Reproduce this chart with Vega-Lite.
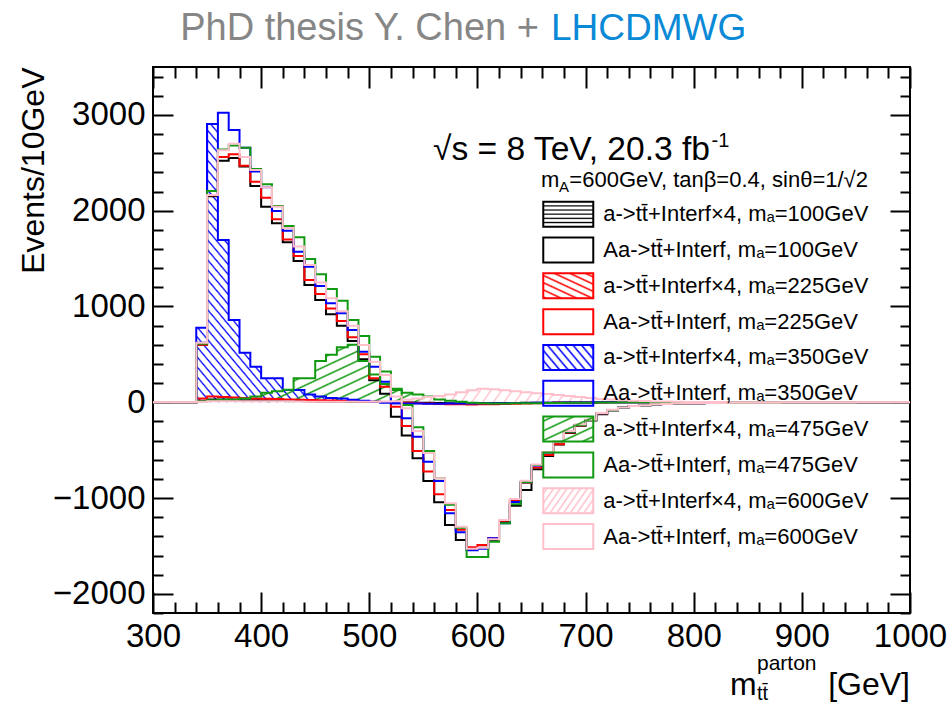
{
"$schema":"https://vega.github.io/schema/vega-lite/v6.json",
"width":757,"height":546,
"autosize":{"type":"none"},
"padding":{"left":153,"top":67,"right":40,"bottom":92},
"background":"white",
"config":{"view":{"stroke":"black","strokeWidth":2},"font":"Liberation Sans","axis":{"labelOverlap":false,"labelSeparation":0}},
"datasets":{
"h":[
{"s":"h1","x":300,"y":0},{"s":"h1","x":310,"y":0},{"s":"h1","x":320,"y":0},{"s":"h1","x":330,"y":0},{"s":"h1","x":340,"y":15},{"s":"h1","x":350,"y":30},{"s":"h1","x":360,"y":28},{"s":"h1","x":370,"y":25},{"s":"h1","x":380,"y":22},{"s":"h1","x":390,"y":20},{"s":"h1","x":400,"y":18},{"s":"h1","x":410,"y":16},{"s":"h1","x":420,"y":14},{"s":"h1","x":430,"y":12},{"s":"h1","x":440,"y":10},{"s":"h1","x":450,"y":9},{"s":"h1","x":460,"y":8},{"s":"h1","x":470,"y":7},{"s":"h1","x":480,"y":6},{"s":"h1","x":490,"y":5},{"s":"h1","x":500,"y":4},{"s":"h1","x":510,"y":3},{"s":"h1","x":520,"y":2},{"s":"h1","x":530,"y":-2},{"s":"h1","x":540,"y":-4},{"s":"h1","x":550,"y":-6},{"s":"h1","x":560,"y":-8},{"s":"h1","x":570,"y":-9},{"s":"h1","x":580,"y":-10},{"s":"h1","x":590,"y":-10},{"s":"h1","x":600,"y":-10},{"s":"h1","x":610,"y":-9},{"s":"h1","x":620,"y":-8},{"s":"h1","x":630,"y":-7},{"s":"h1","x":640,"y":-6},{"s":"h1","x":650,"y":-5},{"s":"h1","x":660,"y":-4},{"s":"h1","x":670,"y":-3},{"s":"h1","x":680,"y":-3},{"s":"h1","x":690,"y":-2},{"s":"h1","x":700,"y":-2},{"s":"h1","x":710,"y":-1},{"s":"h1","x":720,"y":-1},{"s":"h1","x":730,"y":0},{"s":"h1","x":740,"y":0},{"s":"h1","x":750,"y":0},{"s":"h1","x":760,"y":0},{"s":"h1","x":770,"y":0},{"s":"h1","x":780,"y":0},{"s":"h1","x":790,"y":0},{"s":"h1","x":800,"y":0},{"s":"h1","x":810,"y":0},{"s":"h1","x":820,"y":0},{"s":"h1","x":830,"y":0},{"s":"h1","x":840,"y":0},{"s":"h1","x":850,"y":0},{"s":"h1","x":860,"y":0},{"s":"h1","x":870,"y":0},{"s":"h1","x":880,"y":0},{"s":"h1","x":890,"y":0},{"s":"h1","x":900,"y":0},{"s":"h1","x":910,"y":0},{"s":"h1","x":920,"y":0},{"s":"h1","x":930,"y":0},{"s":"h1","x":940,"y":0},{"s":"h1","x":950,"y":0},{"s":"h1","x":960,"y":0},{"s":"h1","x":970,"y":0},{"s":"h1","x":980,"y":0},{"s":"h1","x":990,"y":0},{"s":"h1","x":1000,"y":0},
{"s":"o1","x":300,"y":0},{"s":"o1","x":310,"y":0},{"s":"o1","x":320,"y":0},{"s":"o1","x":330,"y":0},{"s":"o1","x":340,"y":600},{"s":"o1","x":350,"y":2150},{"s":"o1","x":360,"y":2520},{"s":"o1","x":370,"y":2550},{"s":"o1","x":380,"y":2460},{"s":"o1","x":390,"y":2258},{"s":"o1","x":400,"y":2042},{"s":"o1","x":410,"y":1868},{"s":"o1","x":420,"y":1670},{"s":"o1","x":430,"y":1475},{"s":"o1","x":440,"y":1225},{"s":"o1","x":450,"y":1068},{"s":"o1","x":460,"y":920},{"s":"o1","x":470,"y":800},{"s":"o1","x":480,"y":640},{"s":"o1","x":490,"y":450},{"s":"o1","x":500,"y":230},{"s":"o1","x":510,"y":90},{"s":"o1","x":520,"y":-150},{"s":"o1","x":530,"y":-348},{"s":"o1","x":540,"y":-585},{"s":"o1","x":550,"y":-822},{"s":"o1","x":560,"y":-1044},{"s":"o1","x":570,"y":-1281},{"s":"o1","x":580,"y":-1438},{"s":"o1","x":590,"y":-1540},{"s":"o1","x":600,"y":-1520},{"s":"o1","x":610,"y":-1440},{"s":"o1","x":620,"y":-1250},{"s":"o1","x":630,"y":-1080},{"s":"o1","x":640,"y":-916},{"s":"o1","x":650,"y":-700},{"s":"o1","x":660,"y":-560},{"s":"o1","x":670,"y":-440},{"s":"o1","x":680,"y":-320},{"s":"o1","x":690,"y":-245},{"s":"o1","x":700,"y":-190},{"s":"o1","x":710,"y":-125},{"s":"o1","x":720,"y":-85},{"s":"o1","x":730,"y":-55},{"s":"o1","x":740,"y":-40},{"s":"o1","x":750,"y":-30},{"s":"o1","x":760,"y":-22},{"s":"o1","x":770,"y":-18},{"s":"o1","x":780,"y":-14},{"s":"o1","x":790,"y":-11},{"s":"o1","x":800,"y":-9},{"s":"o1","x":810,"y":-8},{"s":"o1","x":820,"y":-7},{"s":"o1","x":830,"y":-6},{"s":"o1","x":840,"y":-5},{"s":"o1","x":850,"y":-5},{"s":"o1","x":860,"y":-4},{"s":"o1","x":870,"y":-4},{"s":"o1","x":880,"y":-3},{"s":"o1","x":890,"y":-3},{"s":"o1","x":900,"y":-3},{"s":"o1","x":910,"y":-2},{"s":"o1","x":920,"y":-2},{"s":"o1","x":930,"y":-2},{"s":"o1","x":940,"y":-2},{"s":"o1","x":950,"y":-1},{"s":"o1","x":960,"y":-1},{"s":"o1","x":970,"y":-1},{"s":"o1","x":980,"y":-1},{"s":"o1","x":990,"y":0},{"s":"o1","x":1000,"y":0},
{"s":"h2","x":300,"y":0},{"s":"h2","x":310,"y":0},{"s":"h2","x":320,"y":0},{"s":"h2","x":330,"y":0},{"s":"h2","x":340,"y":40},{"s":"h2","x":350,"y":60},{"s":"h2","x":360,"y":55},{"s":"h2","x":370,"y":50},{"s":"h2","x":380,"y":45},{"s":"h2","x":390,"y":40},{"s":"h2","x":400,"y":36},{"s":"h2","x":410,"y":33},{"s":"h2","x":420,"y":30},{"s":"h2","x":430,"y":27},{"s":"h2","x":440,"y":24},{"s":"h2","x":450,"y":21},{"s":"h2","x":460,"y":18},{"s":"h2","x":470,"y":15},{"s":"h2","x":480,"y":12},{"s":"h2","x":490,"y":9},{"s":"h2","x":500,"y":6},{"s":"h2","x":510,"y":3},{"s":"h2","x":520,"y":0},{"s":"h2","x":530,"y":-5},{"s":"h2","x":540,"y":-10},{"s":"h2","x":550,"y":-14},{"s":"h2","x":560,"y":-17},{"s":"h2","x":570,"y":-20},{"s":"h2","x":580,"y":-22},{"s":"h2","x":590,"y":-23},{"s":"h2","x":600,"y":-22},{"s":"h2","x":610,"y":-20},{"s":"h2","x":620,"y":-18},{"s":"h2","x":630,"y":-15},{"s":"h2","x":640,"y":-12},{"s":"h2","x":650,"y":-10},{"s":"h2","x":660,"y":-8},{"s":"h2","x":670,"y":-6},{"s":"h2","x":680,"y":-5},{"s":"h2","x":690,"y":-4},{"s":"h2","x":700,"y":-3},{"s":"h2","x":710,"y":-2},{"s":"h2","x":720,"y":-1},{"s":"h2","x":730,"y":0},{"s":"h2","x":740,"y":0},{"s":"h2","x":750,"y":0},{"s":"h2","x":760,"y":0},{"s":"h2","x":770,"y":0},{"s":"h2","x":780,"y":0},{"s":"h2","x":790,"y":0},{"s":"h2","x":800,"y":0},{"s":"h2","x":810,"y":0},{"s":"h2","x":820,"y":0},{"s":"h2","x":830,"y":0},{"s":"h2","x":840,"y":0},{"s":"h2","x":850,"y":0},{"s":"h2","x":860,"y":0},{"s":"h2","x":870,"y":0},{"s":"h2","x":880,"y":0},{"s":"h2","x":890,"y":0},{"s":"h2","x":900,"y":0},{"s":"h2","x":910,"y":0},{"s":"h2","x":920,"y":0},{"s":"h2","x":930,"y":0},{"s":"h2","x":940,"y":0},{"s":"h2","x":950,"y":0},{"s":"h2","x":960,"y":0},{"s":"h2","x":970,"y":0},{"s":"h2","x":980,"y":0},{"s":"h2","x":990,"y":0},{"s":"h2","x":1000,"y":0},
{"s":"o2","x":300,"y":0},{"s":"o2","x":310,"y":0},{"s":"o2","x":320,"y":0},{"s":"o2","x":330,"y":0},{"s":"o2","x":340,"y":600},{"s":"o2","x":350,"y":2160},{"s":"o2","x":360,"y":2560},{"s":"o2","x":370,"y":2590},{"s":"o2","x":380,"y":2470},{"s":"o2","x":390,"y":2303},{"s":"o2","x":400,"y":2136},{"s":"o2","x":410,"y":1910},{"s":"o2","x":420,"y":1700},{"s":"o2","x":430,"y":1527},{"s":"o2","x":440,"y":1277},{"s":"o2","x":450,"y":1130},{"s":"o2","x":460,"y":980},{"s":"o2","x":470,"y":849},{"s":"o2","x":480,"y":680},{"s":"o2","x":490,"y":500},{"s":"o2","x":500,"y":250},{"s":"o2","x":510,"y":163},{"s":"o2","x":520,"y":-46},{"s":"o2","x":530,"y":-247},{"s":"o2","x":540,"y":-508},{"s":"o2","x":550,"y":-724},{"s":"o2","x":560,"y":-960},{"s":"o2","x":570,"y":-1124},{"s":"o2","x":580,"y":-1330},{"s":"o2","x":590,"y":-1514},{"s":"o2","x":600,"y":-1490},{"s":"o2","x":610,"y":-1420},{"s":"o2","x":620,"y":-1236},{"s":"o2","x":630,"y":-1023},{"s":"o2","x":640,"y":-840},{"s":"o2","x":650,"y":-682},{"s":"o2","x":660,"y":-550},{"s":"o2","x":670,"y":-439},{"s":"o2","x":680,"y":-315},{"s":"o2","x":690,"y":-240},{"s":"o2","x":700,"y":-185},{"s":"o2","x":710,"y":-118},{"s":"o2","x":720,"y":-80},{"s":"o2","x":730,"y":-55},{"s":"o2","x":740,"y":-40},{"s":"o2","x":750,"y":-30},{"s":"o2","x":760,"y":-22},{"s":"o2","x":770,"y":-18},{"s":"o2","x":780,"y":-14},{"s":"o2","x":790,"y":-11},{"s":"o2","x":800,"y":-9},{"s":"o2","x":810,"y":-8},{"s":"o2","x":820,"y":-7},{"s":"o2","x":830,"y":-6},{"s":"o2","x":840,"y":-5},{"s":"o2","x":850,"y":-5},{"s":"o2","x":860,"y":-4},{"s":"o2","x":870,"y":-4},{"s":"o2","x":880,"y":-3},{"s":"o2","x":890,"y":-3},{"s":"o2","x":900,"y":-3},{"s":"o2","x":910,"y":-2},{"s":"o2","x":920,"y":-2},{"s":"o2","x":930,"y":-2},{"s":"o2","x":940,"y":-2},{"s":"o2","x":950,"y":-1},{"s":"o2","x":960,"y":-1},{"s":"o2","x":970,"y":-1},{"s":"o2","x":980,"y":-1},{"s":"o2","x":990,"y":0},{"s":"o2","x":1000,"y":0},
{"s":"h3","x":300,"y":0},{"s":"h3","x":310,"y":0},{"s":"h3","x":320,"y":0},{"s":"h3","x":330,"y":0},{"s":"h3","x":340,"y":779},{"s":"h3","x":350,"y":2905},{"s":"h3","x":360,"y":1694},{"s":"h3","x":370,"y":859},{"s":"h3","x":380,"y":518},{"s":"h3","x":390,"y":372},{"s":"h3","x":400,"y":250},{"s":"h3","x":410,"y":250},{"s":"h3","x":420,"y":128},{"s":"h3","x":430,"y":128},{"s":"h3","x":440,"y":80},{"s":"h3","x":450,"y":60},{"s":"h3","x":460,"y":45},{"s":"h3","x":470,"y":40},{"s":"h3","x":480,"y":25},{"s":"h3","x":490,"y":15},{"s":"h3","x":500,"y":5},{"s":"h3","x":510,"y":-5},{"s":"h3","x":520,"y":-10},{"s":"h3","x":530,"y":-12},{"s":"h3","x":540,"y":-14},{"s":"h3","x":550,"y":-15},{"s":"h3","x":560,"y":-15},{"s":"h3","x":570,"y":-14},{"s":"h3","x":580,"y":-13},{"s":"h3","x":590,"y":-12},{"s":"h3","x":600,"y":-11},{"s":"h3","x":610,"y":-10},{"s":"h3","x":620,"y":-9},{"s":"h3","x":630,"y":-8},{"s":"h3","x":640,"y":-7},{"s":"h3","x":650,"y":-6},{"s":"h3","x":660,"y":-5},{"s":"h3","x":670,"y":-4},{"s":"h3","x":680,"y":-3},{"s":"h3","x":690,"y":-2},{"s":"h3","x":700,"y":-2},{"s":"h3","x":710,"y":-1},{"s":"h3","x":720,"y":0},{"s":"h3","x":730,"y":0},{"s":"h3","x":740,"y":0},{"s":"h3","x":750,"y":0},{"s":"h3","x":760,"y":0},{"s":"h3","x":770,"y":0},{"s":"h3","x":780,"y":0},{"s":"h3","x":790,"y":0},{"s":"h3","x":800,"y":0},{"s":"h3","x":810,"y":0},{"s":"h3","x":820,"y":0},{"s":"h3","x":830,"y":0},{"s":"h3","x":840,"y":0},{"s":"h3","x":850,"y":0},{"s":"h3","x":860,"y":0},{"s":"h3","x":870,"y":0},{"s":"h3","x":880,"y":0},{"s":"h3","x":890,"y":0},{"s":"h3","x":900,"y":0},{"s":"h3","x":910,"y":0},{"s":"h3","x":920,"y":0},{"s":"h3","x":930,"y":0},{"s":"h3","x":940,"y":0},{"s":"h3","x":950,"y":0},{"s":"h3","x":960,"y":0},{"s":"h3","x":970,"y":0},{"s":"h3","x":980,"y":0},{"s":"h3","x":990,"y":0},{"s":"h3","x":1000,"y":0},
{"s":"o3","x":300,"y":0},{"s":"o3","x":310,"y":0},{"s":"o3","x":320,"y":0},{"s":"o3","x":330,"y":0},{"s":"o3","x":340,"y":620},{"s":"o3","x":350,"y":2905},{"s":"o3","x":360,"y":3023},{"s":"o3","x":370,"y":2843},{"s":"o3","x":380,"y":2658},{"s":"o3","x":390,"y":2410},{"s":"o3","x":400,"y":2244},{"s":"o3","x":410,"y":1997},{"s":"o3","x":420,"y":1790},{"s":"o3","x":430,"y":1572},{"s":"o3","x":440,"y":1416},{"s":"o3","x":450,"y":1214},{"s":"o3","x":460,"y":1033},{"s":"o3","x":470,"y":929},{"s":"o3","x":480,"y":755},{"s":"o3","x":490,"y":528},{"s":"o3","x":500,"y":372},{"s":"o3","x":510,"y":215},{"s":"o3","x":520,"y":-10},{"s":"o3","x":530,"y":-167},{"s":"o3","x":540,"y":-359},{"s":"o3","x":550,"y":-620},{"s":"o3","x":560,"y":-822},{"s":"o3","x":570,"y":-1159},{"s":"o3","x":580,"y":-1357},{"s":"o3","x":590,"y":-1545},{"s":"o3","x":600,"y":-1530},{"s":"o3","x":610,"y":-1420},{"s":"o3","x":620,"y":-1263},{"s":"o3","x":630,"y":-1040},{"s":"o3","x":640,"y":-835},{"s":"o3","x":650,"y":-660},{"s":"o3","x":660,"y":-525},{"s":"o3","x":670,"y":-415},{"s":"o3","x":680,"y":-307},{"s":"o3","x":690,"y":-237},{"s":"o3","x":700,"y":-185},{"s":"o3","x":710,"y":-115},{"s":"o3","x":720,"y":-80},{"s":"o3","x":730,"y":-55},{"s":"o3","x":740,"y":-40},{"s":"o3","x":750,"y":-30},{"s":"o3","x":760,"y":-22},{"s":"o3","x":770,"y":-18},{"s":"o3","x":780,"y":-14},{"s":"o3","x":790,"y":-11},{"s":"o3","x":800,"y":-9},{"s":"o3","x":810,"y":-8},{"s":"o3","x":820,"y":-7},{"s":"o3","x":830,"y":-6},{"s":"o3","x":840,"y":-5},{"s":"o3","x":850,"y":-5},{"s":"o3","x":860,"y":-4},{"s":"o3","x":870,"y":-4},{"s":"o3","x":880,"y":-3},{"s":"o3","x":890,"y":-3},{"s":"o3","x":900,"y":-3},{"s":"o3","x":910,"y":-2},{"s":"o3","x":920,"y":-2},{"s":"o3","x":930,"y":-2},{"s":"o3","x":940,"y":-2},{"s":"o3","x":950,"y":-1},{"s":"o3","x":960,"y":-1},{"s":"o3","x":970,"y":-1},{"s":"o3","x":980,"y":-1},{"s":"o3","x":990,"y":0},{"s":"o3","x":1000,"y":0},
{"s":"h4","x":300,"y":0},{"s":"h4","x":310,"y":0},{"s":"h4","x":320,"y":0},{"s":"h4","x":330,"y":0},{"s":"h4","x":340,"y":10},{"s":"h4","x":350,"y":20},{"s":"h4","x":360,"y":25},{"s":"h4","x":370,"y":30},{"s":"h4","x":380,"y":40},{"s":"h4","x":390,"y":60},{"s":"h4","x":400,"y":100},{"s":"h4","x":410,"y":115},{"s":"h4","x":420,"y":130},{"s":"h4","x":430,"y":250},{"s":"h4","x":440,"y":250},{"s":"h4","x":450,"y":430},{"s":"h4","x":460,"y":495},{"s":"h4","x":470,"y":574},{"s":"h4","x":480,"y":600},{"s":"h4","x":490,"y":430},{"s":"h4","x":500,"y":290},{"s":"h4","x":510,"y":190},{"s":"h4","x":520,"y":128},{"s":"h4","x":530,"y":100},{"s":"h4","x":540,"y":80},{"s":"h4","x":550,"y":60},{"s":"h4","x":560,"y":30},{"s":"h4","x":570,"y":15},{"s":"h4","x":580,"y":5},{"s":"h4","x":590,"y":-5},{"s":"h4","x":600,"y":-10},{"s":"h4","x":610,"y":-12},{"s":"h4","x":620,"y":-12},{"s":"h4","x":630,"y":-11},{"s":"h4","x":640,"y":-10},{"s":"h4","x":650,"y":-9},{"s":"h4","x":660,"y":-8},{"s":"h4","x":670,"y":-7},{"s":"h4","x":680,"y":-6},{"s":"h4","x":690,"y":-5},{"s":"h4","x":700,"y":-4},{"s":"h4","x":710,"y":-3},{"s":"h4","x":720,"y":-2},{"s":"h4","x":730,"y":-1},{"s":"h4","x":740,"y":0},{"s":"h4","x":750,"y":0},{"s":"h4","x":760,"y":0},{"s":"h4","x":770,"y":0},{"s":"h4","x":780,"y":0},{"s":"h4","x":790,"y":0},{"s":"h4","x":800,"y":0},{"s":"h4","x":810,"y":0},{"s":"h4","x":820,"y":0},{"s":"h4","x":830,"y":0},{"s":"h4","x":840,"y":0},{"s":"h4","x":850,"y":0},{"s":"h4","x":860,"y":0},{"s":"h4","x":870,"y":0},{"s":"h4","x":880,"y":0},{"s":"h4","x":890,"y":0},{"s":"h4","x":900,"y":0},{"s":"h4","x":910,"y":0},{"s":"h4","x":920,"y":0},{"s":"h4","x":930,"y":0},{"s":"h4","x":940,"y":0},{"s":"h4","x":950,"y":0},{"s":"h4","x":960,"y":0},{"s":"h4","x":970,"y":0},{"s":"h4","x":980,"y":0},{"s":"h4","x":990,"y":0},{"s":"h4","x":1000,"y":0},
{"s":"o4","x":300,"y":0},{"s":"o4","x":310,"y":0},{"s":"o4","x":320,"y":0},{"s":"o4","x":330,"y":0},{"s":"o4","x":340,"y":610},{"s":"o4","x":350,"y":2206},{"s":"o4","x":360,"y":2640},{"s":"o4","x":370,"y":2680},{"s":"o4","x":380,"y":2658},{"s":"o4","x":390,"y":2435},{"s":"o4","x":400,"y":2276},{"s":"o4","x":410,"y":2050},{"s":"o4","x":420,"y":1840},{"s":"o4","x":430,"y":1722},{"s":"o4","x":440,"y":1496},{"s":"o4","x":450,"y":1336},{"s":"o4","x":460,"y":1183},{"s":"o4","x":470,"y":1061},{"s":"o4","x":480,"y":860},{"s":"o4","x":490,"y":692},{"s":"o4","x":500,"y":476},{"s":"o4","x":510,"y":320},{"s":"o4","x":520,"y":140},{"s":"o4","x":530,"y":-28},{"s":"o4","x":540,"y":-261},{"s":"o4","x":550,"y":-508},{"s":"o4","x":560,"y":-794},{"s":"o4","x":570,"y":-1070},{"s":"o4","x":580,"y":-1309},{"s":"o4","x":590,"y":-1615},{"s":"o4","x":600,"y":-1615},{"s":"o4","x":610,"y":-1455},{"s":"o4","x":620,"y":-1263},{"s":"o4","x":630,"y":-1065},{"s":"o4","x":640,"y":-835},{"s":"o4","x":650,"y":-655},{"s":"o4","x":660,"y":-522},{"s":"o4","x":670,"y":-411},{"s":"o4","x":680,"y":-307},{"s":"o4","x":690,"y":-237},{"s":"o4","x":700,"y":-185},{"s":"o4","x":710,"y":-115},{"s":"o4","x":720,"y":-80},{"s":"o4","x":730,"y":-55},{"s":"o4","x":740,"y":-40},{"s":"o4","x":750,"y":-30},{"s":"o4","x":760,"y":-22},{"s":"o4","x":770,"y":-18},{"s":"o4","x":780,"y":-14},{"s":"o4","x":790,"y":-11},{"s":"o4","x":800,"y":-9},{"s":"o4","x":810,"y":-8},{"s":"o4","x":820,"y":-7},{"s":"o4","x":830,"y":-6},{"s":"o4","x":840,"y":-5},{"s":"o4","x":850,"y":-5},{"s":"o4","x":860,"y":-4},{"s":"o4","x":870,"y":-4},{"s":"o4","x":880,"y":-3},{"s":"o4","x":890,"y":-3},{"s":"o4","x":900,"y":-3},{"s":"o4","x":910,"y":-2},{"s":"o4","x":920,"y":-2},{"s":"o4","x":930,"y":-2},{"s":"o4","x":940,"y":-2},{"s":"o4","x":950,"y":-1},{"s":"o4","x":960,"y":-1},{"s":"o4","x":970,"y":-1},{"s":"o4","x":980,"y":-1},{"s":"o4","x":990,"y":0},{"s":"o4","x":1000,"y":0},
{"s":"h5","x":300,"y":0},{"s":"h5","x":310,"y":0},{"s":"h5","x":320,"y":0},{"s":"h5","x":330,"y":0},{"s":"h5","x":340,"y":5},{"s":"h5","x":350,"y":10},{"s":"h5","x":360,"y":10},{"s":"h5","x":370,"y":10},{"s":"h5","x":380,"y":10},{"s":"h5","x":390,"y":10},{"s":"h5","x":400,"y":10},{"s":"h5","x":410,"y":10},{"s":"h5","x":420,"y":10},{"s":"h5","x":430,"y":8},{"s":"h5","x":440,"y":6},{"s":"h5","x":450,"y":5},{"s":"h5","x":460,"y":5},{"s":"h5","x":470,"y":5},{"s":"h5","x":480,"y":5},{"s":"h5","x":490,"y":5},{"s":"h5","x":500,"y":5},{"s":"h5","x":510,"y":8},{"s":"h5","x":520,"y":10},{"s":"h5","x":530,"y":25},{"s":"h5","x":540,"y":40},{"s":"h5","x":550,"y":55},{"s":"h5","x":560,"y":65},{"s":"h5","x":570,"y":80},{"s":"h5","x":580,"y":105},{"s":"h5","x":590,"y":125},{"s":"h5","x":600,"y":140},{"s":"h5","x":610,"y":135},{"s":"h5","x":620,"y":125},{"s":"h5","x":630,"y":115},{"s":"h5","x":640,"y":105},{"s":"h5","x":650,"y":95},{"s":"h5","x":660,"y":85},{"s":"h5","x":670,"y":75},{"s":"h5","x":680,"y":65},{"s":"h5","x":690,"y":55},{"s":"h5","x":700,"y":45},{"s":"h5","x":710,"y":35},{"s":"h5","x":720,"y":28},{"s":"h5","x":730,"y":22},{"s":"h5","x":740,"y":17},{"s":"h5","x":750,"y":12},{"s":"h5","x":760,"y":9},{"s":"h5","x":770,"y":7},{"s":"h5","x":780,"y":5},{"s":"h5","x":790,"y":4},{"s":"h5","x":800,"y":3},{"s":"h5","x":810,"y":2},{"s":"h5","x":820,"y":2},{"s":"h5","x":830,"y":1},{"s":"h5","x":840,"y":1},{"s":"h5","x":850,"y":0},{"s":"h5","x":860,"y":0},{"s":"h5","x":870,"y":0},{"s":"h5","x":880,"y":0},{"s":"h5","x":890,"y":0},{"s":"h5","x":900,"y":0},{"s":"h5","x":910,"y":0},{"s":"h5","x":920,"y":0},{"s":"h5","x":930,"y":0},{"s":"h5","x":940,"y":0},{"s":"h5","x":950,"y":0},{"s":"h5","x":960,"y":0},{"s":"h5","x":970,"y":0},{"s":"h5","x":980,"y":0},{"s":"h5","x":990,"y":0},{"s":"h5","x":1000,"y":0},
{"s":"o5","x":300,"y":0},{"s":"o5","x":310,"y":0},{"s":"o5","x":320,"y":0},{"s":"o5","x":330,"y":0},{"s":"o5","x":340,"y":622},{"s":"o5","x":350,"y":2164},{"s":"o5","x":360,"y":2630},{"s":"o5","x":370,"y":2700},{"s":"o5","x":380,"y":2560},{"s":"o5","x":390,"y":2425},{"s":"o5","x":400,"y":2244},{"s":"o5","x":410,"y":2042},{"s":"o5","x":420,"y":1820},{"s":"o5","x":430,"y":1625},{"s":"o5","x":440,"y":1433},{"s":"o5","x":450,"y":1250},{"s":"o5","x":460,"y":1086},{"s":"o5","x":470,"y":950},{"s":"o5","x":480,"y":800},{"s":"o5","x":490,"y":598},{"s":"o5","x":500,"y":424},{"s":"o5","x":510,"y":285},{"s":"o5","x":520,"y":60},{"s":"o5","x":530,"y":-63},{"s":"o5","x":540,"y":-300},{"s":"o5","x":550,"y":-530},{"s":"o5","x":560,"y":-794},{"s":"o5","x":570,"y":-1054},{"s":"o5","x":580,"y":-1300},{"s":"o5","x":590,"y":-1530},{"s":"o5","x":600,"y":-1520},{"s":"o5","x":610,"y":-1430},{"s":"o5","x":620,"y":-1230},{"s":"o5","x":630,"y":-1010},{"s":"o5","x":640,"y":-820},{"s":"o5","x":650,"y":-650},{"s":"o5","x":660,"y":-520},{"s":"o5","x":670,"y":-411},{"s":"o5","x":680,"y":-300},{"s":"o5","x":690,"y":-230},{"s":"o5","x":700,"y":-180},{"s":"o5","x":710,"y":-112},{"s":"o5","x":720,"y":-78},{"s":"o5","x":730,"y":-55},{"s":"o5","x":740,"y":-40},{"s":"o5","x":750,"y":-30},{"s":"o5","x":760,"y":-22},{"s":"o5","x":770,"y":-18},{"s":"o5","x":780,"y":-14},{"s":"o5","x":790,"y":-11},{"s":"o5","x":800,"y":-9},{"s":"o5","x":810,"y":-8},{"s":"o5","x":820,"y":-7},{"s":"o5","x":830,"y":-6},{"s":"o5","x":840,"y":-5},{"s":"o5","x":850,"y":-5},{"s":"o5","x":860,"y":-4},{"s":"o5","x":870,"y":-4},{"s":"o5","x":880,"y":-3},{"s":"o5","x":890,"y":-3},{"s":"o5","x":900,"y":-3},{"s":"o5","x":910,"y":-2},{"s":"o5","x":920,"y":-2},{"s":"o5","x":930,"y":-2},{"s":"o5","x":940,"y":-2},{"s":"o5","x":950,"y":-1},{"s":"o5","x":960,"y":-1},{"s":"o5","x":970,"y":-1},{"s":"o5","x":980,"y":-1},{"s":"o5","x":990,"y":0},{"s":"o5","x":1000,"y":0}
],
"leg":[
{"s":"h1","t":"a->tt\u0304+Interf\u00d74, m\u2090=100GeV"},
{"s":"o1","t":"Aa->tt\u0304+Interf, m\u2090=100GeV"},
{"s":"h2","t":"a->tt\u0304+Interf\u00d74, m\u2090=225GeV"},
{"s":"o2","t":"Aa->tt\u0304+Interf, m\u2090=225GeV"},
{"s":"h3","t":"a->tt\u0304+Interf\u00d74, m\u2090=350GeV"},
{"s":"o3","t":"Aa->tt\u0304+Interf, m\u2090=350GeV"},
{"s":"h4","t":"a->tt\u0304+Interf\u00d74, m\u2090=475GeV"},
{"s":"o4","t":"Aa->tt\u0304+Interf, m\u2090=475GeV"},
{"s":"h5","t":"a->tt\u0304+Interf\u00d74, m\u2090=600GeV"},
{"s":"o5","t":"Aa->tt\u0304+Interf, m\u2090=600GeV"}
]
},
"resolve":{"scale":{"y":"independent"},"axis":{"x":"independent","y":"independent"}},
"layer":[
{
"data":{"name":"h"},
"layer":[
{"mark":{"type":"line","interpolate":"step-after","strokeWidth":2,"opacity":0},
"encoding":{
"x":{"field":"x","type":"quantitative","scale":{"domain":[300,1000],"nice":false},
"axis":{"orient":"bottom","tickCount":100,"values":[300,320,340,360,380,400,420,440,460,480,500,520,540,560,580,600,620,640,660,680,700,720,740,760,780,800,820,840,860,880,900,920,940,960,980,1000],"format":"d","labelExpr":"datum.value % 100 === 0 ? datum.label : ''","tickSize":{"condition":{"test":"datum.value % 100 === 0","value":-21},"value":-11},"tickWidth":2,"tickColor":"black","domain":false,"grid":false,"labelFontSize":33,"labelFont":"Liberation Sans","labelColor":"black","labelPadding":28,"labelFlush":false,"labelOverlap":false,"labelBound":false,"title":null}},
"y":{"field":"y","type":"quantitative","scale":{"domain":[-2200,3500],"nice":false},
"axis":{"orient":"left","tickCount":100,"values":[-2200,-2000,-1800,-1600,-1400,-1200,-1000,-800,-600,-400,-200,0,200,400,600,800,1000,1200,1400,1600,1800,2000,2200,2400,2600,2800,3000,3200,3400],"format":"d","labelExpr":"datum.value % 1000 === 0 ? datum.label : ''","tickSize":{"condition":{"test":"datum.value % 1000 === 0","value":-20},"value":-10},"tickWidth":2,"tickColor":"black","domain":false,"grid":false,"labelFontSize":33,"labelFont":"Liberation Sans","labelColor":"black","labelPadding":28,"labelOverlap":false,"labelBound":false,"title":"Events/10GeV","titleFontSize":32,"titleFont":"Liberation Sans","titleFontWeight":"normal","titleColor":"black","titleAnchor":"end","titlePadding":2}},
"detail":{"field":"s","type":"nominal"}}},
{"transform":[{"filter":"datum.s==='h3' && datum.x>=340 && datum.x<=510"}],
"mark":{"type":"area","interpolate":"step-after","opacity":1,"strokeWidth":0,
"fill":{"gradient":"linear","x1":0.3825,"y1":-0.486,"x2":-0.486,"y2":0.6175,"stops":[
{"offset":0.002,"color":"rgba(0,0,255,0)"},{"offset":0.006,"color":"#0000ff"},{"offset":0.01,"color":"rgba(0,0,255,0)"},
{"offset":0.022,"color":"rgba(0,0,255,0)"},{"offset":0.026,"color":"#0000ff"},{"offset":0.03,"color":"rgba(0,0,255,0)"},
{"offset":0.042,"color":"rgba(0,0,255,0)"},{"offset":0.046,"color":"#0000ff"},{"offset":0.05,"color":"rgba(0,0,255,0)"},
{"offset":0.062,"color":"rgba(0,0,255,0)"},{"offset":0.066,"color":"#0000ff"},{"offset":0.07,"color":"rgba(0,0,255,0)"},
{"offset":0.082,"color":"rgba(0,0,255,0)"},{"offset":0.086,"color":"#0000ff"},{"offset":0.09,"color":"rgba(0,0,255,0)"},
{"offset":0.102,"color":"rgba(0,0,255,0)"},{"offset":0.106,"color":"#0000ff"},{"offset":0.11,"color":"rgba(0,0,255,0)"},
{"offset":0.122,"color":"rgba(0,0,255,0)"},{"offset":0.126,"color":"#0000ff"},{"offset":0.13,"color":"rgba(0,0,255,0)"},
{"offset":0.142,"color":"rgba(0,0,255,0)"},{"offset":0.146,"color":"#0000ff"},{"offset":0.15,"color":"rgba(0,0,255,0)"},
{"offset":0.162,"color":"rgba(0,0,255,0)"},{"offset":0.166,"color":"#0000ff"},{"offset":0.17,"color":"rgba(0,0,255,0)"},
{"offset":0.182,"color":"rgba(0,0,255,0)"},{"offset":0.186,"color":"#0000ff"},{"offset":0.19,"color":"rgba(0,0,255,0)"},
{"offset":0.202,"color":"rgba(0,0,255,0)"},{"offset":0.206,"color":"#0000ff"},{"offset":0.21,"color":"rgba(0,0,255,0)"},
{"offset":0.222,"color":"rgba(0,0,255,0)"},{"offset":0.226,"color":"#0000ff"},{"offset":0.23,"color":"rgba(0,0,255,0)"},
{"offset":0.242,"color":"rgba(0,0,255,0)"},{"offset":0.246,"color":"#0000ff"},{"offset":0.25,"color":"rgba(0,0,255,0)"},
{"offset":0.262,"color":"rgba(0,0,255,0)"},{"offset":0.266,"color":"#0000ff"},{"offset":0.27,"color":"rgba(0,0,255,0)"},
{"offset":0.282,"color":"rgba(0,0,255,0)"},{"offset":0.286,"color":"#0000ff"},{"offset":0.29,"color":"rgba(0,0,255,0)"},
{"offset":0.302,"color":"rgba(0,0,255,0)"},{"offset":0.306,"color":"#0000ff"},{"offset":0.31,"color":"rgba(0,0,255,0)"},
{"offset":0.322,"color":"rgba(0,0,255,0)"},{"offset":0.326,"color":"#0000ff"},{"offset":0.33,"color":"rgba(0,0,255,0)"},
{"offset":0.342,"color":"rgba(0,0,255,0)"},{"offset":0.346,"color":"#0000ff"},{"offset":0.35,"color":"rgba(0,0,255,0)"},
{"offset":0.362,"color":"rgba(0,0,255,0)"},{"offset":0.366,"color":"#0000ff"},{"offset":0.37,"color":"rgba(0,0,255,0)"},
{"offset":0.382,"color":"rgba(0,0,255,0)"},{"offset":0.386,"color":"#0000ff"},{"offset":0.39,"color":"rgba(0,0,255,0)"},
{"offset":0.402,"color":"rgba(0,0,255,0)"},{"offset":0.406,"color":"#0000ff"},{"offset":0.41,"color":"rgba(0,0,255,0)"},
{"offset":0.422,"color":"rgba(0,0,255,0)"},{"offset":0.426,"color":"#0000ff"},{"offset":0.43,"color":"rgba(0,0,255,0)"},
{"offset":0.442,"color":"rgba(0,0,255,0)"},{"offset":0.446,"color":"#0000ff"},{"offset":0.45,"color":"rgba(0,0,255,0)"},
{"offset":0.462,"color":"rgba(0,0,255,0)"},{"offset":0.466,"color":"#0000ff"},{"offset":0.47,"color":"rgba(0,0,255,0)"},
{"offset":0.482,"color":"rgba(0,0,255,0)"},{"offset":0.486,"color":"#0000ff"},{"offset":0.49,"color":"rgba(0,0,255,0)"},
{"offset":0.502,"color":"rgba(0,0,255,0)"},{"offset":0.506,"color":"#0000ff"},{"offset":0.51,"color":"rgba(0,0,255,0)"},
{"offset":0.522,"color":"rgba(0,0,255,0)"},{"offset":0.526,"color":"#0000ff"},{"offset":0.53,"color":"rgba(0,0,255,0)"},
{"offset":0.542,"color":"rgba(0,0,255,0)"},{"offset":0.546,"color":"#0000ff"},{"offset":0.55,"color":"rgba(0,0,255,0)"},
{"offset":0.562,"color":"rgba(0,0,255,0)"},{"offset":0.566,"color":"#0000ff"},{"offset":0.57,"color":"rgba(0,0,255,0)"},
{"offset":0.582,"color":"rgba(0,0,255,0)"},{"offset":0.586,"color":"#0000ff"},{"offset":0.59,"color":"rgba(0,0,255,0)"},
{"offset":0.602,"color":"rgba(0,0,255,0)"},{"offset":0.606,"color":"#0000ff"},{"offset":0.61,"color":"rgba(0,0,255,0)"},
{"offset":0.622,"color":"rgba(0,0,255,0)"},{"offset":0.626,"color":"#0000ff"},{"offset":0.63,"color":"rgba(0,0,255,0)"},
{"offset":0.642,"color":"rgba(0,0,255,0)"},{"offset":0.646,"color":"#0000ff"},{"offset":0.65,"color":"rgba(0,0,255,0)"},
{"offset":0.662,"color":"rgba(0,0,255,0)"},{"offset":0.666,"color":"#0000ff"},{"offset":0.67,"color":"rgba(0,0,255,0)"},
{"offset":0.682,"color":"rgba(0,0,255,0)"},{"offset":0.686,"color":"#0000ff"},{"offset":0.69,"color":"rgba(0,0,255,0)"},
{"offset":0.702,"color":"rgba(0,0,255,0)"},{"offset":0.706,"color":"#0000ff"},{"offset":0.71,"color":"rgba(0,0,255,0)"},
{"offset":0.722,"color":"rgba(0,0,255,0)"},{"offset":0.726,"color":"#0000ff"},{"offset":0.73,"color":"rgba(0,0,255,0)"},
{"offset":0.742,"color":"rgba(0,0,255,0)"},{"offset":0.746,"color":"#0000ff"},{"offset":0.75,"color":"rgba(0,0,255,0)"},
{"offset":0.762,"color":"rgba(0,0,255,0)"},{"offset":0.766,"color":"#0000ff"},{"offset":0.77,"color":"rgba(0,0,255,0)"},
{"offset":0.782,"color":"rgba(0,0,255,0)"},{"offset":0.786,"color":"#0000ff"},{"offset":0.79,"color":"rgba(0,0,255,0)"},
{"offset":0.802,"color":"rgba(0,0,255,0)"},{"offset":0.806,"color":"#0000ff"},{"offset":0.81,"color":"rgba(0,0,255,0)"},
{"offset":0.822,"color":"rgba(0,0,255,0)"},{"offset":0.826,"color":"#0000ff"},{"offset":0.83,"color":"rgba(0,0,255,0)"},
{"offset":0.842,"color":"rgba(0,0,255,0)"},{"offset":0.846,"color":"#0000ff"},{"offset":0.85,"color":"rgba(0,0,255,0)"},
{"offset":0.862,"color":"rgba(0,0,255,0)"},{"offset":0.866,"color":"#0000ff"},{"offset":0.87,"color":"rgba(0,0,255,0)"},
{"offset":0.882,"color":"rgba(0,0,255,0)"},{"offset":0.886,"color":"#0000ff"},{"offset":0.89,"color":"rgba(0,0,255,0)"},
{"offset":0.902,"color":"rgba(0,0,255,0)"},{"offset":0.906,"color":"#0000ff"},{"offset":0.91,"color":"rgba(0,0,255,0)"},
{"offset":0.922,"color":"rgba(0,0,255,0)"},{"offset":0.926,"color":"#0000ff"},{"offset":0.93,"color":"rgba(0,0,255,0)"},
{"offset":0.942,"color":"rgba(0,0,255,0)"},{"offset":0.946,"color":"#0000ff"},{"offset":0.95,"color":"rgba(0,0,255,0)"},
{"offset":0.962,"color":"rgba(0,0,255,0)"},{"offset":0.966,"color":"#0000ff"},{"offset":0.97,"color":"rgba(0,0,255,0)"},
{"offset":0.982,"color":"rgba(0,0,255,0)"},{"offset":0.986,"color":"#0000ff"},{"offset":0.99,"color":"rgba(0,0,255,0)"}
]}},
"encoding":{"x":{"field":"x","type":"quantitative"},"y":{"field":"y","type":"quantitative"},"y2":{"datum":0}}},
{"transform":[{"filter":"datum.s==='h4' && datum.x>=400 && datum.x<=560"}],
"mark":{"type":"area","interpolate":"step-after","opacity":1,"strokeWidth":0,
"fill":{"gradient":"linear","x1":0,"y1":0,"x2":1.1361,"y2":0.8086,"stops":[
{"offset":0.01,"color":"rgba(17,153,17,0)"},{"offset":0.022,"color":"#119911"},{"offset":0.034,"color":"rgba(17,153,17,0)"},
{"offset":0.08,"color":"rgba(17,153,17,0)"},{"offset":0.092,"color":"#119911"},{"offset":0.104,"color":"rgba(17,153,17,0)"},
{"offset":0.15,"color":"rgba(17,153,17,0)"},{"offset":0.162,"color":"#119911"},{"offset":0.174,"color":"rgba(17,153,17,0)"},
{"offset":0.22,"color":"rgba(17,153,17,0)"},{"offset":0.232,"color":"#119911"},{"offset":0.244,"color":"rgba(17,153,17,0)"},
{"offset":0.29,"color":"rgba(17,153,17,0)"},{"offset":0.302,"color":"#119911"},{"offset":0.314,"color":"rgba(17,153,17,0)"},
{"offset":0.36,"color":"rgba(17,153,17,0)"},{"offset":0.372,"color":"#119911"},{"offset":0.384,"color":"rgba(17,153,17,0)"},
{"offset":0.43,"color":"rgba(17,153,17,0)"},{"offset":0.442,"color":"#119911"},{"offset":0.454,"color":"rgba(17,153,17,0)"},
{"offset":0.5,"color":"rgba(17,153,17,0)"},{"offset":0.512,"color":"#119911"},{"offset":0.524,"color":"rgba(17,153,17,0)"},
{"offset":0.57,"color":"rgba(17,153,17,0)"},{"offset":0.582,"color":"#119911"},{"offset":0.594,"color":"rgba(17,153,17,0)"},
{"offset":0.64,"color":"rgba(17,153,17,0)"},{"offset":0.652,"color":"#119911"},{"offset":0.664,"color":"rgba(17,153,17,0)"},
{"offset":0.71,"color":"rgba(17,153,17,0)"},{"offset":0.722,"color":"#119911"},{"offset":0.734,"color":"rgba(17,153,17,0)"},
{"offset":0.78,"color":"rgba(17,153,17,0)"},{"offset":0.792,"color":"#119911"},{"offset":0.804,"color":"rgba(17,153,17,0)"},
{"offset":0.85,"color":"rgba(17,153,17,0)"},{"offset":0.862,"color":"#119911"},{"offset":0.874,"color":"rgba(17,153,17,0)"},
{"offset":0.92,"color":"rgba(17,153,17,0)"},{"offset":0.932,"color":"#119911"},{"offset":0.944,"color":"rgba(17,153,17,0)"}
]}},
"encoding":{"x":{"field":"x","type":"quantitative"},"y":{"field":"y","type":"quantitative"},"y2":{"datum":0}}},
{"transform":[{"filter":"datum.s==='h5' && datum.x>=520 && datum.x<=760"}],
"mark":{"type":"area","interpolate":"step-after","opacity":1,"strokeWidth":0,
"fill":{"gradient":"linear","x1":0,"y1":0,"x2":1.035,"y2":0.0375,"stops":[
{"offset":0.01,"color":"rgba(255,192,203,0)"},{"offset":0.016,"color":"#ffc0cb"},{"offset":0.022,"color":"rgba(255,192,203,0)"},
{"offset":0.05,"color":"rgba(255,192,203,0)"},{"offset":0.056,"color":"#ffc0cb"},{"offset":0.062,"color":"rgba(255,192,203,0)"},
{"offset":0.09,"color":"rgba(255,192,203,0)"},{"offset":0.096,"color":"#ffc0cb"},{"offset":0.102,"color":"rgba(255,192,203,0)"},
{"offset":0.13,"color":"rgba(255,192,203,0)"},{"offset":0.136,"color":"#ffc0cb"},{"offset":0.142,"color":"rgba(255,192,203,0)"},
{"offset":0.17,"color":"rgba(255,192,203,0)"},{"offset":0.176,"color":"#ffc0cb"},{"offset":0.182,"color":"rgba(255,192,203,0)"},
{"offset":0.21,"color":"rgba(255,192,203,0)"},{"offset":0.216,"color":"#ffc0cb"},{"offset":0.222,"color":"rgba(255,192,203,0)"},
{"offset":0.25,"color":"rgba(255,192,203,0)"},{"offset":0.256,"color":"#ffc0cb"},{"offset":0.262,"color":"rgba(255,192,203,0)"},
{"offset":0.29,"color":"rgba(255,192,203,0)"},{"offset":0.296,"color":"#ffc0cb"},{"offset":0.302,"color":"rgba(255,192,203,0)"},
{"offset":0.33,"color":"rgba(255,192,203,0)"},{"offset":0.336,"color":"#ffc0cb"},{"offset":0.342,"color":"rgba(255,192,203,0)"},
{"offset":0.37,"color":"rgba(255,192,203,0)"},{"offset":0.376,"color":"#ffc0cb"},{"offset":0.382,"color":"rgba(255,192,203,0)"},
{"offset":0.41,"color":"rgba(255,192,203,0)"},{"offset":0.416,"color":"#ffc0cb"},{"offset":0.422,"color":"rgba(255,192,203,0)"},
{"offset":0.45,"color":"rgba(255,192,203,0)"},{"offset":0.456,"color":"#ffc0cb"},{"offset":0.462,"color":"rgba(255,192,203,0)"},
{"offset":0.49,"color":"rgba(255,192,203,0)"},{"offset":0.496,"color":"#ffc0cb"},{"offset":0.502,"color":"rgba(255,192,203,0)"},
{"offset":0.53,"color":"rgba(255,192,203,0)"},{"offset":0.536,"color":"#ffc0cb"},{"offset":0.542,"color":"rgba(255,192,203,0)"},
{"offset":0.57,"color":"rgba(255,192,203,0)"},{"offset":0.576,"color":"#ffc0cb"},{"offset":0.582,"color":"rgba(255,192,203,0)"},
{"offset":0.61,"color":"rgba(255,192,203,0)"},{"offset":0.616,"color":"#ffc0cb"},{"offset":0.622,"color":"rgba(255,192,203,0)"},
{"offset":0.65,"color":"rgba(255,192,203,0)"},{"offset":0.656,"color":"#ffc0cb"},{"offset":0.662,"color":"rgba(255,192,203,0)"},
{"offset":0.69,"color":"rgba(255,192,203,0)"},{"offset":0.696,"color":"#ffc0cb"},{"offset":0.702,"color":"rgba(255,192,203,0)"},
{"offset":0.73,"color":"rgba(255,192,203,0)"},{"offset":0.736,"color":"#ffc0cb"},{"offset":0.742,"color":"rgba(255,192,203,0)"},
{"offset":0.77,"color":"rgba(255,192,203,0)"},{"offset":0.776,"color":"#ffc0cb"},{"offset":0.782,"color":"rgba(255,192,203,0)"},
{"offset":0.81,"color":"rgba(255,192,203,0)"},{"offset":0.816,"color":"#ffc0cb"},{"offset":0.822,"color":"rgba(255,192,203,0)"},
{"offset":0.85,"color":"rgba(255,192,203,0)"},{"offset":0.856,"color":"#ffc0cb"},{"offset":0.862,"color":"rgba(255,192,203,0)"},
{"offset":0.89,"color":"rgba(255,192,203,0)"},{"offset":0.896,"color":"#ffc0cb"},{"offset":0.902,"color":"rgba(255,192,203,0)"},
{"offset":0.93,"color":"rgba(255,192,203,0)"},{"offset":0.936,"color":"#ffc0cb"},{"offset":0.942,"color":"rgba(255,192,203,0)"},
{"offset":0.97,"color":"rgba(255,192,203,0)"},{"offset":0.976,"color":"#ffc0cb"},{"offset":0.982,"color":"rgba(255,192,203,0)"}
]}},
"encoding":{"x":{"field":"x","type":"quantitative"},"y":{"field":"y","type":"quantitative"},"y2":{"datum":0}}},
{"mark":{"type":"line","interpolate":"step-after","strokeWidth":2},
"encoding":{
"x":{"field":"x","type":"quantitative"},
"y":{"field":"y","type":"quantitative"},
"stroke":{"field":"s","type":"nominal","scale":{"domain":["h1","o1","h2","o2","h3","o3","h4","o4","h5","o5"],"range":["#000000","#000000","#ff0000","#ff0000","#0000ff","#0000ff","#119911","#119911","#ffc0cb","#ffc0cb"]},"legend":null}}},
{"data":{"values":[{}]},"mark":{"type":"text","text":"PhD thesis Y. Chen +","align":"right","baseline":"alphabetic","fontSize":38,"font":"Liberation Sans","color":"#868686"},"encoding":{"x":{"datum":656.9},"y":{"datum":3782}}},
{"data":{"values":[{}]},"mark":{"type":"text","text":"LHCDMWG","align":"left","baseline":"alphabetic","fontSize":37,"font":"Liberation Sans","color":"#0a89d6"},"encoding":{"x":{"datum":668.0},"y":{"datum":3782}}},
{"data":{"values":[{}]},"mark":{"type":"text","text":"\u221as = 8 TeV, 20.3 fb","align":"left","baseline":"alphabetic","fontSize":33.6,"font":"Liberation Sans","color":"black"},"encoding":{"x":{"datum":558.9},"y":{"datum":2529}}},
{"data":{"values":[{}]},"mark":{"type":"text","text":"-1","align":"left","baseline":"alphabetic","fontSize":20,"font":"Liberation Sans","color":"black"},"encoding":{"x":{"datum":816.5},"y":{"datum":2665}}},
{"data":{"values":[{}]},"mark":{"type":"text","text":"m","align":"left","baseline":"alphabetic","fontSize":22,"font":"Liberation Sans","color":"black"},"encoding":{"x":{"datum":658.8},"y":{"datum":2248}}},
{"data":{"values":[{}]},"mark":{"type":"text","text":"A","align":"left","baseline":"alphabetic","fontSize":15,"font":"Liberation Sans","color":"black"},"encoding":{"x":{"datum":675.4},"y":{"datum":2196}}},
{"data":{"values":[{}]},"mark":{"type":"text","text":"=600GeV, tan\u03b2=0.4, sin\u03b8=1/\u221a2","align":"left","baseline":"alphabetic","fontSize":22,"font":"Liberation Sans","color":"black"},"encoding":{"x":{"datum":685.0},"y":{"datum":2248}}},
{"data":{"values":[{}]},"mark":{"type":"text","text":"m","align":"left","baseline":"alphabetic","fontSize":32,"font":"Liberation Sans","color":"black"},"encoding":{"x":{"datum":833.6},"y":{"datum":-3056}}},
{"data":{"values":[{}]},"mark":{"type":"text","text":"parton","align":"left","baseline":"alphabetic","fontSize":21,"font":"Liberation Sans","color":"black"},"encoding":{"x":{"datum":858.5},"y":{"datum":-2790}}},
{"data":{"values":[{}]},"mark":{"type":"text","text":"tt\u0304","align":"left","baseline":"alphabetic","fontSize":20,"font":"Liberation Sans","color":"black"},"encoding":{"x":{"datum":858.5},"y":{"datum":-3106}}},
{"data":{"values":[{}]},"mark":{"type":"text","text":"[GeV]","align":"right","baseline":"alphabetic","fontSize":32,"font":"Liberation Sans","color":"black"},"encoding":{"x":{"datum":1000},"y":{"datum":-3056}}}
]
},
{
"data":{"values":[{"x":300,"y":0}]},
"mark":{"type":"point","opacity":0},
"encoding":{
"x":{"field":"x","type":"quantitative","scale":{"domain":[300,1000],"nice":false},
"axis":{"orient":"top","tickCount":100,"values":[300,320,340,360,380,400,420,440,460,480,500,520,540,560,580,600,620,640,660,680,700,720,740,760,780,800,820,840,860,880,900,920,940,960,980,1000],"labels":false,"tickSize":{"condition":{"test":"datum.value % 100 === 0","value":-21},"value":-11},"tickWidth":2,"tickColor":"black","domain":false,"grid":false,"title":null}},
"y":{"field":"y","type":"quantitative","scale":{"domain":[-2200,3500],"nice":false},
"axis":{"orient":"right","tickCount":100,"values":[-2200,-2000,-1800,-1600,-1400,-1200,-1000,-800,-600,-400,-200,0,200,400,600,800,1000,1200,1400,1600,1800,2000,2200,2400,2600,2800,3000,3200,3400],"labels":false,"tickSize":{"condition":{"test":"datum.value % 1000 === 0","value":-20},"value":-10},"tickWidth":2,"tickColor":"black","domain":false,"grid":false,"title":null}}
}
},
{
"data":{"name":"leg"},
"encoding":{"y":{"field":"s","type":"nominal","scale":{"type":"point","domain":["h1","o1","h2","o2","h3","o3","h4","o4","h5","o5"],"range":[147.2,469.5],"padding":0},"axis":null}},
"layer":[
{"transform":[{"filter":"datum.s==='h1'"}],"mark":{"type":"point","shape":"M-1,-0.5L1,-0.5L1,0.5L-1,0.5Z","size":2500,"filled":true,"opacity":1,"strokeWidth":0,
"fill":{"gradient":"linear","x1":0,"y1":0,"x2":0,"y2":1,"stops":[
{"offset":0.117,"color":"rgba(0,0,0,0)"},{"offset":0.167,"color":"#000000"},{"offset":0.217,"color":"rgba(0,0,0,0)"},
{"offset":0.283,"color":"rgba(0,0,0,0)"},{"offset":0.333,"color":"#000000"},{"offset":0.383,"color":"rgba(0,0,0,0)"},
{"offset":0.45,"color":"rgba(0,0,0,0)"},{"offset":0.5,"color":"#000000"},{"offset":0.55,"color":"rgba(0,0,0,0)"},
{"offset":0.617,"color":"rgba(0,0,0,0)"},{"offset":0.667,"color":"#000000"},{"offset":0.717,"color":"rgba(0,0,0,0)"},
{"offset":0.783,"color":"rgba(0,0,0,0)"},{"offset":0.833,"color":"#000000"},{"offset":0.883,"color":"rgba(0,0,0,0)"}
]}},
"encoding":{"x":{"datum":684,"scale":{"domain":[300,1000],"nice":false},"axis":null}}},
{"transform":[{"filter":"datum.s==='h2'"}],"mark":{"type":"point","shape":"M-1,-0.5L1,-0.5L1,0.5L-1,0.5Z","size":2500,"filled":true,"opacity":1,"strokeWidth":0,
"fill":{"gradient":"linear","x1":0.4635,"y1":-0.4988,"x2":-0.4988,"y2":0.5366,"stops":[
{"offset":0.04,"color":"rgba(255,0,0,0)"},{"offset":0.075,"color":"#ff0000"},{"offset":0.11,"color":"rgba(255,0,0,0)"},
{"offset":0.19,"color":"rgba(255,0,0,0)"},{"offset":0.225,"color":"#ff0000"},{"offset":0.26,"color":"rgba(255,0,0,0)"},
{"offset":0.34,"color":"rgba(255,0,0,0)"},{"offset":0.375,"color":"#ff0000"},{"offset":0.41,"color":"rgba(255,0,0,0)"},
{"offset":0.49,"color":"rgba(255,0,0,0)"},{"offset":0.525,"color":"#ff0000"},{"offset":0.56,"color":"rgba(255,0,0,0)"},
{"offset":0.64,"color":"rgba(255,0,0,0)"},{"offset":0.675,"color":"#ff0000"},{"offset":0.71,"color":"rgba(255,0,0,0)"},
{"offset":0.79,"color":"rgba(255,0,0,0)"},{"offset":0.825,"color":"#ff0000"},{"offset":0.86,"color":"rgba(255,0,0,0)"},
{"offset":0.94,"color":"rgba(255,0,0,0)"},{"offset":0.975,"color":"#ff0000"},{"offset":1,"color":"rgba(255,0,0,0)"}
]}},
"encoding":{"x":{"datum":684,"axis":null}}},
{"transform":[{"filter":"datum.s==='h3'"}],"mark":{"type":"point","shape":"M-1,-0.5L1,-0.5L1,0.5L-1,0.5Z","size":2500,"filled":true,"opacity":1,"strokeWidth":0,
"fill":{"gradient":"linear","x1":0.8498,"y1":-0.3573,"x2":-0.3573,"y2":0.1502,"stops":[
{"offset":0.02,"color":"rgba(0,0,255,0)"},{"offset":0.048,"color":"#0000ff"},{"offset":0.076,"color":"rgba(0,0,255,0)"},
{"offset":0.14,"color":"rgba(0,0,255,0)"},{"offset":0.168,"color":"#0000ff"},{"offset":0.196,"color":"rgba(0,0,255,0)"},
{"offset":0.26,"color":"rgba(0,0,255,0)"},{"offset":0.288,"color":"#0000ff"},{"offset":0.316,"color":"rgba(0,0,255,0)"},
{"offset":0.38,"color":"rgba(0,0,255,0)"},{"offset":0.408,"color":"#0000ff"},{"offset":0.436,"color":"rgba(0,0,255,0)"},
{"offset":0.5,"color":"rgba(0,0,255,0)"},{"offset":0.528,"color":"#0000ff"},{"offset":0.556,"color":"rgba(0,0,255,0)"},
{"offset":0.62,"color":"rgba(0,0,255,0)"},{"offset":0.648,"color":"#0000ff"},{"offset":0.676,"color":"rgba(0,0,255,0)"},
{"offset":0.74,"color":"rgba(0,0,255,0)"},{"offset":0.768,"color":"#0000ff"},{"offset":0.796,"color":"rgba(0,0,255,0)"},
{"offset":0.86,"color":"rgba(0,0,255,0)"},{"offset":0.888,"color":"#0000ff"},{"offset":0.916,"color":"rgba(0,0,255,0)"}
]}},
"encoding":{"x":{"datum":684,"axis":null}}},
{"transform":[{"filter":"datum.s==='h4'"}],"mark":{"type":"point","shape":"M-1,-0.5L1,-0.5L1,0.5L-1,0.5Z","size":2500,"filled":true,"opacity":1,"strokeWidth":0,
"fill":{"gradient":"linear","x1":0,"y1":0,"x2":0.9623,"y2":1.0354,"stops":[
{"offset":0.06,"color":"rgba(17,153,17,0)"},{"offset":0.095,"color":"#119911"},{"offset":0.13,"color":"rgba(17,153,17,0)"},
{"offset":0.26,"color":"rgba(17,153,17,0)"},{"offset":0.295,"color":"#119911"},{"offset":0.33,"color":"rgba(17,153,17,0)"},
{"offset":0.46,"color":"rgba(17,153,17,0)"},{"offset":0.495,"color":"#119911"},{"offset":0.53,"color":"rgba(17,153,17,0)"},
{"offset":0.66,"color":"rgba(17,153,17,0)"},{"offset":0.695,"color":"#119911"},{"offset":0.73,"color":"rgba(17,153,17,0)"},
{"offset":0.86,"color":"rgba(17,153,17,0)"},{"offset":0.895,"color":"#119911"},{"offset":0.93,"color":"rgba(17,153,17,0)"}
]}},
"encoding":{"x":{"datum":684,"axis":null}}},
{"transform":[{"filter":"datum.s==='h5'"}],"mark":{"type":"point","shape":"M-1,-0.5L1,-0.5L1,0.5L-1,0.5Z","size":2500,"filled":true,"opacity":1,"strokeWidth":0,
"fill":{"gradient":"linear","x1":0,"y1":0,"x2":1.2024,"y2":0.4194,"stops":[
{"offset":0.03,"color":"rgba(255,192,203,0)"},{"offset":0.057,"color":"#ffc0cb"},{"offset":0.084,"color":"rgba(255,192,203,0)"},
{"offset":0.13,"color":"rgba(255,192,203,0)"},{"offset":0.157,"color":"#ffc0cb"},{"offset":0.184,"color":"rgba(255,192,203,0)"},
{"offset":0.23,"color":"rgba(255,192,203,0)"},{"offset":0.257,"color":"#ffc0cb"},{"offset":0.284,"color":"rgba(255,192,203,0)"},
{"offset":0.33,"color":"rgba(255,192,203,0)"},{"offset":0.357,"color":"#ffc0cb"},{"offset":0.384,"color":"rgba(255,192,203,0)"},
{"offset":0.43,"color":"rgba(255,192,203,0)"},{"offset":0.457,"color":"#ffc0cb"},{"offset":0.484,"color":"rgba(255,192,203,0)"},
{"offset":0.53,"color":"rgba(255,192,203,0)"},{"offset":0.557,"color":"#ffc0cb"},{"offset":0.584,"color":"rgba(255,192,203,0)"},
{"offset":0.63,"color":"rgba(255,192,203,0)"},{"offset":0.657,"color":"#ffc0cb"},{"offset":0.684,"color":"rgba(255,192,203,0)"},
{"offset":0.73,"color":"rgba(255,192,203,0)"},{"offset":0.757,"color":"#ffc0cb"},{"offset":0.784,"color":"rgba(255,192,203,0)"},
{"offset":0.83,"color":"rgba(255,192,203,0)"},{"offset":0.857,"color":"#ffc0cb"},{"offset":0.884,"color":"rgba(255,192,203,0)"},
{"offset":0.93,"color":"rgba(255,192,203,0)"},{"offset":0.957,"color":"#ffc0cb"},{"offset":0.984,"color":"rgba(255,192,203,0)"}
]}},
"encoding":{"x":{"datum":684,"axis":null}}},
{"mark":{"type":"point","shape":"M-1,-0.5L1,-0.5L1,0.5L-1,0.5Z","size":2500,"filled":false,"opacity":1,"strokeWidth":2},
"encoding":{"x":{"datum":684,"axis":null},"stroke":{"field":"s","type":"nominal","scale":{"domain":["h1","o1","h2","o2","h3","o3","h4","o4","h5","o5"],"range":["#000000","#000000","#ff0000","#ff0000","#0000ff","#0000ff","#119911","#119911","#ffc0cb","#ffc0cb"]},"legend":null}}},
{"mark":{"type":"text","align":"left","baseline":"middle","fontSize":22,"font":"Liberation Sans","color":"black"},
"encoding":{"x":{"datum":716.4,"axis":null},"text":{"field":"t"}}}
]
}
]
}
